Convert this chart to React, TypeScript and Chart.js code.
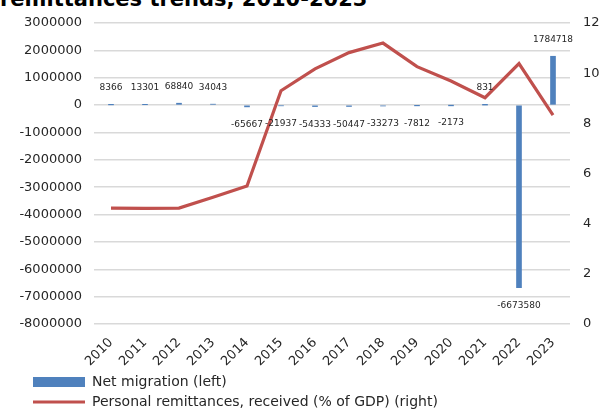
import React, { useEffect, useRef } from 'react';
import { Chart, registerables } from 'chart.js';

Chart.register(...registerables);

const years = ['2010', '2011', '2012', '2013', '2014', '2015', '2016', '2017', '2018', '2019', '2020', '2021', '2022', '2023'];
const netMigration = [8366, 13301, 68840, 34043, -65667, -21937, -54333, -50447, -33273, -7812, -2173, 831, -6673580, 1784718];
const remittances = [4.62, 4.61, 4.62, 5.05, 5.5, 9.3, 10.17, 10.82, 11.2, 10.26, 9.69, 9.02, 10.38, 8.33];

const seriesNames = ['Net migration (left)', 'Personal remittances, received (% of GDP) (right)'];
const titleText = 'remittances trends, 2010-2023';

const FONT = '"DejaVu Sans", sans-serif';
const TEXT = '#262626';
const BAR = '#4F81BD';
const LINE = '#C0504D';

const dataLabels = {
  id: 'dataLabels',
  afterDatasetsDraw(chart: any) {
    const meta = chart.getDatasetMeta(0);
    const ctx = chart.ctx;
    ctx.save();
    ctx.font = '9px ' + FONT;
    ctx.fillStyle = TEXT;
    ctx.textAlign = 'center';
    ctx.textBaseline = 'middle';
    meta.data.forEach((el: any, i: number) => {
      const v = netMigration[i];
      const y = v >= 0 ? el.y - 17 : el.y + 18;
      ctx.fillText(String(v), el.x, y);
    });
    ctx.restore();
  },
};

const legendShift = {
  id: 'legendShift',
  afterLayout(chart: any) {
    const l = chart.legend;
    if (l) {
      l.left += 27;
      l.right += 27;
    }
  },
};

export default function App() {
  const ref = useRef<HTMLCanvasElement | null>(null);
  useEffect(() => {
    const canvas = ref.current;
    if (!canvas) return;
    const chart = new Chart(canvas, {
      type: 'bar',
      data: {
        labels: years,
        datasets: [
          {
            type: 'bar',
            label: seriesNames[0],
            data: netMigration,
            backgroundColor: BAR,
            borderWidth: 0,
            barThickness: 5,
            yAxisID: 'y',
            order: 1,
            pointStyle: 'rect',
          } as any,
          {
            type: 'line',
            label: seriesNames[1],
            data: remittances,
            borderColor: LINE,
            backgroundColor: LINE,
            borderWidth: 3.2,
            pointRadius: 0,
            tension: 0,
            yAxisID: 'y1',
            order: 0,
            pointStyle: 'line',
          } as any,
        ],
      },
      options: {
        responsive: false,
        animation: false,
        devicePixelRatio: 1,
        layout: { padding: { left: 0, top: 23, right: 0, bottom: -9 } },
        plugins: {
          tooltip: { enabled: false },
          legend: {
            position: 'bottom',
            align: 'start',
            labels: {
              usePointStyle: true,
              pointStyleWidth: 52,
              boxHeight: 10,
              padding: 6,
              color: TEXT,
              font: { family: FONT, size: 14 },
              sort: (a: any, b: any) => a.datasetIndex - b.datasetIndex,
            },
          },
        },
        scales: {
          x: {
            grid: { display: false, drawTicks: false },
            border: { display: false },
            ticks: {
              minRotation: 45,
              maxRotation: 45,
              color: TEXT,
              padding: 11,
              font: { family: FONT, size: 13 },
            },
            afterFit: (s: any) => { s.height = 45; },
          },
          y: {
            position: 'left',
            min: -8000000,
            max: 3000000,
            grid: { color: '#d9d9d9', lineWidth: 1.5, drawTicks: false },
            border: { display: false },
            ticks: {
              stepSize: 1000000,
              color: TEXT,
              padding: 12,
              font: { family: FONT, size: 13 },
              callback: (v: any) => String(v),
            },
            afterFit: (s: any) => { s.width = 94; },
          },
          y1: {
            position: 'right',
            min: 0,
            max: 12,
            grid: { display: false, drawTicks: false },
            border: { display: false },
            ticks: {
              stepSize: 2,
              color: TEXT,
              padding: 13,
              font: { family: FONT, size: 13 },
            },
            afterFit: (s: any) => { s.width = 34; },
          },
        },
      } as any,
      plugins: [dataLabels, legendShift],
    });
    return () => chart.destroy();
  }, []);

  return (
    <div style={{ position: 'fixed', left: 0, top: 0, width: 604, height: 410, overflow: 'hidden', background: '#fff' }}>
      <div
        style={{
          position: 'absolute',
          left: 0,
          top: -11,
          font: 'bold 21px ' + FONT,
          lineHeight: '21px',
          whiteSpace: 'nowrap',
          color: '#000',
        }}
      >
        {titleText}
      </div>
      <canvas ref={ref} width={604} height={410} style={{ position: 'absolute', left: 0, top: 0 }} />
    </div>
  );
}
